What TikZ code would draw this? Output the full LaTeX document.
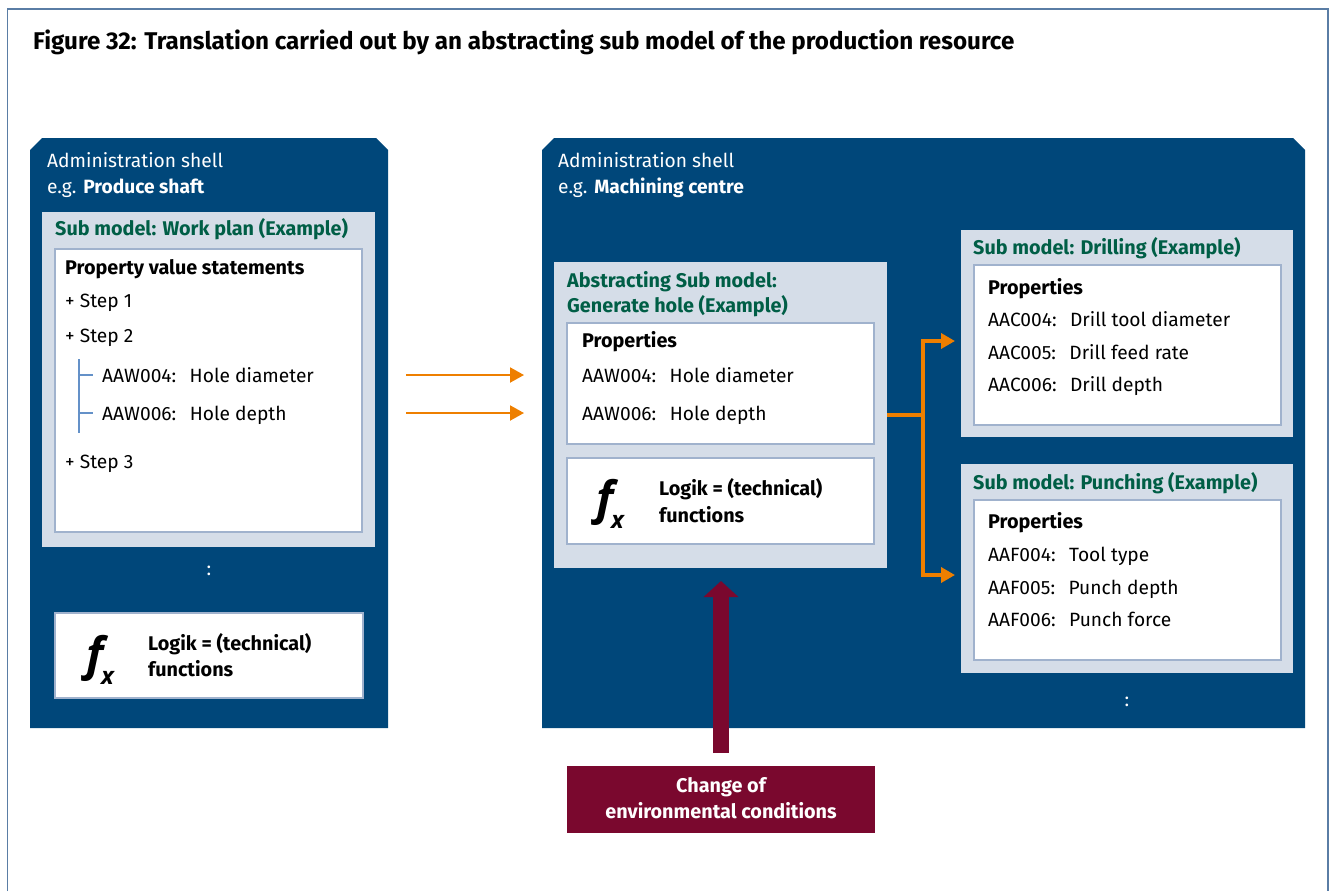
\documentclass[tikz,border=0pt]{standalone}
\usepackage{fontspec}
\setmainfont{Fira Sans}
\newfontfamily\fxfont{Open Sans}
\usetikzlibrary{arrows.meta}
\definecolor{shellblue}{RGB}{0,71,122}
\definecolor{lightc}{RGB}{213,221,232}
\definecolor{borderc}{RGB}{160,178,205}
\definecolor{greenc}{RGB}{0,94,70}
\definecolor{orangec}{RGB}{238,127,0}
\definecolor{maroonc}{RGB}{122,8,46}
\definecolor{framec}{RGB}{90,125,165}
\definecolor{treec}{RGB}{100,145,200}
\newcommand{\gap}{\hspace{0.7em}}
\newcommand{\regsize}{\fontsize{19.2}{22}\selectfont}
\newcommand{\boldsize}{\fontsize{19.8}{22}\selectfont\bfseries}
\tikzset{
  lbox/.style={fill=lightc, draw=none, inner sep=0pt, outer sep=0pt, anchor=north west},
  wbox/.style={fill=white, draw=borderc, line width=1.5pt, inner sep=0pt, outer sep=0pt, anchor=north west},
  txt/.style={anchor=base west, inner sep=0pt, font=\regsize},
  wtxt/.style={txt, text=white},
  gtxt/.style={txt, text=greenc, font=\boldsize},
  btxt/.style={txt, font=\boldsize},
  oarrow/.style={draw=orangec, line width=2pt, -{Triangle[length=14pt,width=15pt]}},
  obranch/.style={draw=orangec, line width=3.5pt},
  fxf/.style={anchor=base west, inner sep=0pt, font=\fxfont\fontsize{46}{46}\selectfont\bfseries\itshape},
  fxx/.style={anchor=base west, inner sep=0pt, font=\fxfont\fontsize{24}{24}\selectfont\bfseries\itshape},
}
\begin{document}
\begin{tikzpicture}[x=1pt,y=-1pt]
\useasboundingbox (0,0) rectangle (1332,891);
% outer frame
\draw[framec, line width=1.2pt] (7.5,891) -- (7.5,9) -- (1328,9) -- (1328,891);
\node[anchor=base west, inner sep=0pt, font=\fontsize{24.2}{28}\selectfont\bfseries] (title) at (33,50)
  {Figure 32: Translation carried out by an abstracting sub model of the production resource};

% shells
\fill[shellblue] (30,728) -- (30,150) -- (42,138) -- (376,138) -- (388,150) -- (388,728) -- cycle;
\fill[shellblue] (542,728) -- (542,150) -- (554,138) -- (1293,138) -- (1305,150) -- (1305,728) -- cycle;

% ---- left shell
\node[wtxt] (ls1) at (47,167) {Administration shell};
\node[wtxt] (ls2) at (47,193) {e.g. \textbf{Produce shaft}};
\node[lbox, minimum width=333pt, minimum height=335pt] (wp) at (42,212) {};
\node[gtxt] (wpt) at (55,235) {Sub model: Work plan (Example)};
\node[wbox, minimum width=307pt, minimum height=283pt] (wpw) at (55,249) {};
\node[btxt] (pvs) at (65,274) {Property value statements};
\node[txt] (st1) at (65,307) {+ Step 1};
\node[txt] (st2) at (65,342) {+ Step 2};
\node[txt] (aw4) at (102,382) {AAW004:\gap Hole diameter};
\node[txt] (aw6) at (102,420) {AAW006:\gap Hole depth};
\node[txt] (st3) at (65,468) {+ Step 3};
\draw[treec, line width=1.5pt] (79,359) -- (79,433);
\draw[treec, line width=1.2pt] (79,375) -- (93,375) (79,413) -- (93,413);
\node[text=white, inner sep=0pt, font=\regsize] (dotsL) at (209,571) {:};
\node[wbox, minimum width=308pt, minimum height=85pt] (fxL) at (55,613) {};
\node[fxf] (fL) at (86,670) {f};
\node[fxx] (xL) at (101,684) {x};
\node[btxt] (lgL1) at (148,650) {Logik = (technical)};
\node[btxt] (lgL2) at (148,676) {functions};

% ---- middle shell
\node[wtxt] (ms1) at (558,167) {Administration shell};
\node[wtxt] (ms2) at (558,193) {e.g. \textbf{Machining centre}};
\node[lbox, minimum width=333pt, minimum height=306pt] (abs) at (554,262) {};
\node[gtxt] (abt1) at (567,287) {Abstracting Sub model:};
\node[gtxt] (abt2) at (567,312) {Generate hole (Example)};
\node[wbox, minimum width=307pt, minimum height=121pt] (absw) at (567,323) {};
\node[btxt] (mp) at (582,347) {Properties};
\node[txt] (maw4) at (582,382) {AAW004:\gap Hole diameter};
\node[txt] (maw6) at (582,420) {AAW006:\gap Hole depth};
\node[wbox, minimum width=307pt, minimum height=86pt] (fxM) at (567,458) {};
\node[fxf] (fM) at (596,514) {f};
\node[fxx] (xM) at (611,528) {x};
\node[btxt] (lgM1) at (659,495) {Logik = (technical)};
\node[btxt] (lgM2) at (659,522) {functions};

% drilling
\node[lbox, minimum width=332pt, minimum height=207pt] (dr) at (961,230) {};
\node[gtxt] (drt) at (973,254) {Sub model: Drilling (Example)};
\node[wbox, minimum width=307pt, minimum height=160pt] (drw) at (974,265) {};
\node[btxt] (dp) at (988,294) {Properties};
\node[txt] (d4) at (988,326) {AAC004:\gap Drill tool diameter};
\node[txt] (d5) at (988,359) {AAC005:\gap Drill feed rate};
\node[txt] (d6) at (988,391) {AAC006:\gap Drill depth};

% punching
\node[lbox, minimum width=332pt, minimum height=209pt] (pu) at (961,464) {};
\node[gtxt] (put) at (973,489) {Sub model: Punching (Example)};
\node[wbox, minimum width=307pt, minimum height=160pt] (puw) at (974,500) {};
\node[btxt] (pp) at (988,528) {Properties};
\node[txt] (p4) at (988,561) {AAF004:\gap Tool type};
\node[txt] (p5) at (988,594) {AAF005:\gap Punch depth};
\node[txt] (p6) at (988,626) {AAF006:\gap Punch force};
\node[text=white, inner sep=0pt, font=\regsize] (dotsR) at (1127,702) {:};

% environment box
\node[fill=maroonc, inner sep=0pt, outer sep=0pt, anchor=north west, minimum width=308pt, minimum height=67pt] (env) at (567,766) {};
\node[anchor=base, inner sep=0pt, text=white, font=\boldsize] (env1) at (721,792) {Change of};
\node[anchor=base, inner sep=0pt, text=white, font=\boldsize] (env2) at (721,818) {environmental conditions};

% orange arrows
\coordinate (a1s) at (406,375); \coordinate (a1e) at (524,375);
\coordinate (a2s) at (406,413); \coordinate (a2e) at (524,413);
\draw[oarrow] (a1s) -- (a1e);
\draw[oarrow] (a2s) -- (a2e);
\coordinate (br) at (923,415);
\coordinate (dtip) at (955,341);
\coordinate (ptip) at (955,575);
\draw[obranch] (abs.east) -- (br);
\draw[obranch, -{Triangle[length=14pt,width=15pt]}] (br) |- (dtip);
\draw[obranch, -{Triangle[length=14pt,width=15pt]}] (br) |- (ptip);

% maroon arrow
\coordinate (ms) at (721,753);
\coordinate (me) at (721,581);
\draw[maroonc, line width=16pt, -{Triangle[length=16pt,width=34pt]}] (ms) -- (me);
\end{tikzpicture}
\end{document}
